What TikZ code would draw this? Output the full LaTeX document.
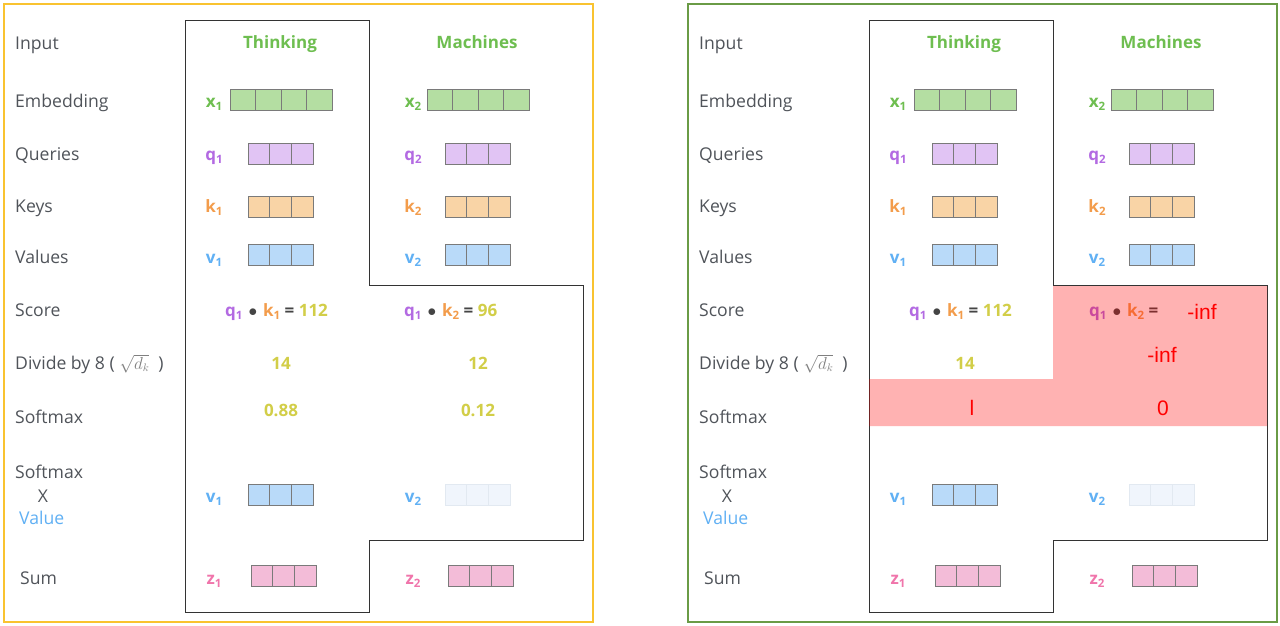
\documentclass[tikz,border=0pt]{standalone}
\usepackage{fontspec}
\setmainfont{Open Sans}
\newfontfamily\arialf{Liberation Sans}
\definecolor{clab}{HTML}{50545A}
\definecolor{cgreen}{HTML}{6EBE50}
\definecolor{cembf}{HTML}{B4DEA2}
\definecolor{cq}{HTML}{B36AE2}
\definecolor{cqf}{HTML}{E1C4F4}
\definecolor{ck}{HTML}{F39C4B}
\definecolor{ckf}{HTML}{F9D4A6}
\definecolor{cv}{HTML}{60B0F4}
\definecolor{cvf}{HTML}{B9DAF9}
\definecolor{cvfade}{HTML}{F0F5FC}
\definecolor{cvfaded}{HTML}{E2E9F1}
\definecolor{cz}{HTML}{F075AB}
\definecolor{czf}{HTML}{F3BCD8}
\definecolor{cnum}{HTML}{D2CE48}
\definecolor{cdot}{HTML}{444444}
\definecolor{ccell}{HTML}{7A7A7A}
\definecolor{cout}{HTML}{333333}
\definecolor{csqrt}{HTML}{808080}
\definecolor{cyel}{HTML}{F9C330}
\definecolor{cgrn}{HTML}{6A9B46}
\definecolor{cred}{HTML}{FF0000}
\tikzset{
 labtxt/.style={anchor=west, inner sep=0pt, text=clab, text height=12.5pt, text depth=0pt, font=\fontsize{17.6}{20}\selectfont},
 wordtxt/.style={inner sep=0pt, text=cgreen, text height=12.5pt, text depth=0pt, font=\fontsize{17}{20}\selectfont\bfseries},
 subtxt/.style={inner sep=0pt, text height=12.5pt, text depth=0pt, font=\fontsize{17}{20}\selectfont},
 numtxt/.style={inner sep=0pt, text=cnum, text height=12.5pt, text depth=0pt, font=\fontsize{17}{20}\selectfont\bfseries},
 redtxt/.style={inner sep=0pt, text=cred, text height=15pt, text depth=0pt, font=\arialf\fontsize{21}{24}\selectfont},
 vcell/.style={line width=0.9pt, minimum height=21pt, inner sep=0pt},
 colline/.style={draw=cout, line width=1pt},
}
\newcommand\sbl[3]{{\color{#1}\bfseries #2\raisebox{-0.35ex}{\fontsize{11.5}{12}\selectfont #3}}}
\newcommand\cdotsym{\hspace{6pt}{\color{cdot}\fontsize{18}{20}\selectfont$\bullet$}\hspace{6pt}}
\newcommand\eqsym{{\color{cdot}\bfseries =}}
\newcommand\cellvec[7]{\foreach \ci in {1,...,#4}{\node[vcell, minimum width=#5pt, fill=#6, draw=#7] (#1-\ci) at ({#2+(\ci-0.5)*#5},#3) {};}}
\newcommand\basepanel[1]{%
 \node[labtxt] (#1Lin) at (15,43) {Input};
 \node[labtxt] (#1Lemb) at (15,101) {Embedding};
 \node[labtxt] (#1Lq) at (15,154) {Queries};
 \node[labtxt] (#1Lk) at (15,206) {Keys};
 \node[labtxt] (#1Lv) at (15,257) {Values};
 \node[labtxt] (#1Ls) at (15,310) {Score};
 \node[labtxt] (#1Ld) at (15,363) {Divide by 8 (\hspace{5pt}{\color{csqrt}\fontsize{16}{16}\selectfont$\sqrt{d_k}$}\hspace{9pt})};
 \node[labtxt] (#1Lsm) at (15,417) {Softmax};
 \node[labtxt] (#1Lsmb) at (15,472) {Softmax};
 \node[labtxt, anchor=center] (#1Lx) at (43,496) {X};
 \node[labtxt, text=cv] (#1Lval) at (19,518) {Value};
 \node[labtxt] (#1Lsum) at (20,578) {Sum};
 \node[wordtxt] (#1Wa) at (280,42) {Thinking};
 \node[wordtxt] (#1Wb) at (477,42) {Machines};
 \node[subtxt] (#1xa) at (214,101) {\sbl{cgreen}{x}{1}};
 \node[subtxt] (#1xb) at (413,101) {\sbl{cgreen}{x}{2}};
 \cellvec{#1exa}{230}{100}{4}{25.5}{cembf}{ccell}
 \cellvec{#1exb}{427}{100}{4}{25.5}{cembf}{ccell}
 \node[subtxt] (#1qa) at (214,154) {\sbl{cq}{q}{1}};
 \node[subtxt] (#1qb) at (413,154) {\sbl{cq}{q}{2}};
 \cellvec{#1eqa}{248}{154}{3}{21.7}{cqf}{ccell}
 \cellvec{#1eqb}{445}{154}{3}{21.7}{cqf}{ccell}
 \node[subtxt] (#1ka) at (214,206) {\sbl{ck}{k}{1}};
 \node[subtxt] (#1kb) at (413,206) {\sbl{ck}{k}{2}};
 \cellvec{#1eka}{248}{207}{3}{21.7}{ckf}{ccell}
 \cellvec{#1ekb}{445}{207}{3}{21.7}{ckf}{ccell}
 \node[subtxt] (#1va) at (214,257) {\sbl{cv}{v}{1}};
 \node[subtxt] (#1vb) at (413,257) {\sbl{cv}{v}{2}};
 \cellvec{#1eva}{248}{255}{3}{21.7}{cvf}{ccell}
 \cellvec{#1evb}{445}{255}{3}{21.7}{cvf}{ccell}
 \node[subtxt] (#1wa) at (214,496) {\sbl{cv}{v}{1}};
 \node[subtxt] (#1wb) at (413,496) {\sbl{cv}{v}{2}};
 \cellvec{#1ewa}{248}{495}{3}{21.7}{cvf}{ccell}
 \cellvec{#1ewb}{445}{495}{3}{21.7}{cvfade}{cvfaded}
 \node[subtxt] (#1za) at (214,578) {\sbl{cz}{z}{1}};
 \node[subtxt] (#1zb) at (413,578) {\sbl{cz}{z}{2}};
 \cellvec{#1eza}{251}{576}{3}{21.7}{czf}{ccell}
 \cellvec{#1ezb}{448}{576}{3}{21.7}{czf}{ccell}
 \node[subtxt, anchor=west] (#1sa) at (225,310) {\sbl{cq}{q}{1}\cdotsym\sbl{ck}{k}{1} \eqsym{} {\color{cnum}\bfseries 112}};
 \node[numtxt] (#1da) at (281,363) {14};
 \draw[colline] (185,21) -- (369,21) -- (369,285) -- (583,285) -- (583,540) -- (369,540) -- (369,612) -- (185,612) -- cycle;
}
\begin{document}
\begin{tikzpicture}[x=1pt,y=-1pt]
\useasboundingbox (0,0) rectangle (1280,626);
\fill[white] (0,0) rectangle (1280,626);
\draw[draw=cyel, line width=1.6pt] (4,4) rectangle (593,622);
\draw[draw=cgrn, line width=1.6pt] (688,4) rectangle (1277,622);
% left panel
\basepanel{L}
\node[subtxt, anchor=west] (Lsb) at (404,310) {\sbl{cq}{q}{1}\cdotsym\sbl{ck}{k}{2} \eqsym{} {\color{cnum}\bfseries 96}};
\node[numtxt] (Ldb) at (478,363) {12};
\node[numtxt] (Lma) at (281,410) {0.88};
\node[numtxt] (Lmb) at (478,410) {0.12};
% right panel
\begin{scope}[xshift=684pt]
\basepanel{R}
\node[subtxt, anchor=west] (Rsb) at (405,310) {\sbl{cq}{q}{1}\cdotsym\sbl{ck}{k}{2} \eqsym};
\fill[cred, opacity=0.3] (369,286) -- (583,286) -- (583,426) -- (185,426) -- (185,379) -- (369,379) -- cycle;
\node[redtxt] (Rinfa) at (518,312) {-inf};
\node[redtxt] (Rinfb) at (478,355) {-inf};
\node[redtxt] (Rone) at (288,408) {l};
\node[redtxt] (Rzero) at (479,408) {0};
\end{scope}
\end{tikzpicture}
\end{document}
